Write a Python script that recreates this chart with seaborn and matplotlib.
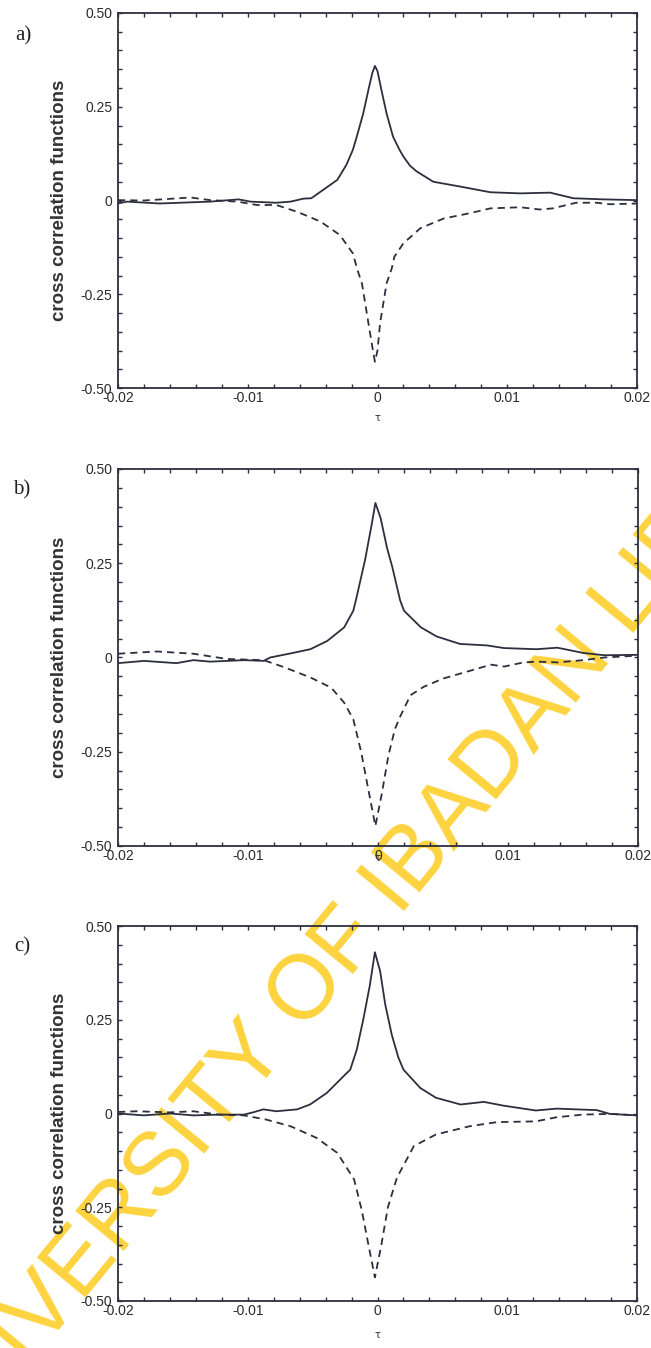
import numpy as np
import pandas as pd
import matplotlib
matplotlib.use("Agg")
import matplotlib.pyplot as plt
import seaborn as sns
from matplotlib.ticker import MultipleLocator

# ---------------- data ----------------
x_ticks = [-0.02, -0.01, 0.0, 0.01, 0.02]
x_ticklabels = ["-0.02", "-0.01", "0", "0.01", "0.02"]
y_ticks = [-0.5, -0.25, 0.0, 0.25, 0.5]
y_ticklabels = ["-0.50", "-0.25", "0", "0.25", "0.50"]
panel_labels = ["a)", "b)", "c)"]

# panel a
a_solid_tau = [-0.0200, -0.0193, -0.0168, -0.0129, -0.0107, -0.0098, -0.0078, -0.0067,
               -0.0057, -0.0051, -0.0042, -0.0031, -0.0024, -0.0019, -0.0016, -0.0011,
               -0.0007, -0.0004, -0.0002, 0.0000, 0.0003, 0.0007, 0.0012, 0.0017,
               0.0020, 0.0025, 0.0030, 0.0043, 0.0064, 0.0087, 0.0110, 0.0133,
               0.0151, 0.0174, 0.0200]
a_solid_val = [-0.008, -0.003, -0.008, -0.003, 0.003, -0.003, -0.006, -0.003,
               0.005, 0.006, 0.028, 0.055, 0.095, 0.135, 0.170, 0.232,
               0.295, 0.340, 0.359, 0.345, 0.295, 0.232, 0.170, 0.135,
               0.117, 0.093, 0.078, 0.050, 0.037, 0.022, 0.019, 0.021,
               0.006, 0.003, 0.001]
a_dash_tau = [-0.0200, -0.0180, -0.0144, -0.0129, -0.0108, -0.0093, -0.0078, -0.0062,
              -0.0044, -0.0029, -0.0019, -0.0015, -0.0012, -0.0007, -0.0004, -0.0002,
              0.0000, 0.0002, 0.0007, 0.0011, 0.0013, 0.0020, 0.0033, 0.0051,
              0.0071, 0.0087, 0.0110, 0.0125, 0.0135, 0.0153, 0.0169, 0.0179, 0.0200]
a_dash_val = [0.001, 0.000, 0.008, 0.001, -0.003, -0.012, -0.012, -0.030,
              -0.056, -0.092, -0.141, -0.190, -0.221, -0.327, -0.390, -0.430,
              -0.400, -0.327, -0.221, -0.181, -0.150, -0.114, -0.074, -0.048,
              -0.034, -0.021, -0.018, -0.024, -0.021, -0.006, -0.006, -0.010, -0.008]

# panel b
b_solid_tau = [-0.0200, -0.0180, -0.0155, -0.0142, -0.0129, -0.0103, -0.0088, -0.0083,
               -0.0067, -0.0052, -0.0039, -0.0026, -0.0019, -0.0017, -0.0010, -0.0005,
               -0.0002, 0.0002, 0.0007, 0.0011, 0.0017, 0.0020, 0.0033, 0.0045,
               0.0063, 0.0084, 0.0097, 0.0122, 0.0138, 0.0158, 0.0174, 0.0200]
b_solid_val = [-0.015, -0.009, -0.015, -0.007, -0.011, -0.007, -0.009, 0.000,
               0.011, 0.022, 0.044, 0.080, 0.124, 0.152, 0.258, 0.350,
               0.410, 0.370, 0.290, 0.240, 0.152, 0.124, 0.080, 0.056,
               0.036, 0.032, 0.025, 0.022, 0.026, 0.012, 0.006, 0.007]
b_dash_tau = [-0.0200, -0.0170, -0.0142, -0.0116, -0.0088, -0.0072, -0.0052, -0.0036,
              -0.0026, -0.0019, -0.0013, -0.0008, -0.0002, 0.0003, 0.0008, 0.0013,
              0.0017, 0.0025, 0.0035, 0.0050, 0.0071, 0.0087, 0.0097, 0.0112,
              0.0122, 0.0138, 0.0158, 0.0174, 0.0200]
b_dash_val = [0.010, 0.016, 0.010, -0.004, -0.007, -0.026, -0.053, -0.080,
              -0.120, -0.164, -0.250, -0.340, -0.447, -0.360, -0.260, -0.190,
              -0.157, -0.100, -0.078, -0.056, -0.035, -0.019, -0.024, -0.013,
              -0.011, -0.013, -0.007, 0.000, 0.005]

# panel c
c_solid_tau = [-0.0200, -0.0180, -0.0160, -0.0142, -0.0122, -0.0103, -0.0096, -0.0088,
               -0.0078, -0.0062, -0.0052, -0.0039, -0.0026, -0.0021, -0.0016, -0.0011,
               -0.0006, -0.0002, 0.0002, 0.0006, 0.0011, 0.0016, 0.0020, 0.0033,
               0.0045, 0.0064, 0.0082, 0.0097, 0.0122, 0.0138, 0.0169, 0.0179, 0.0200]
c_solid_val = [0.000, -0.005, 0.000, -0.005, -0.003, -0.003, 0.003, 0.011,
               0.006, 0.011, 0.024, 0.055, 0.100, 0.117, 0.170, 0.250,
               0.340, 0.430, 0.380, 0.290, 0.210, 0.150, 0.117, 0.068,
               0.042, 0.024, 0.031, 0.021, 0.008, 0.013, 0.009, -0.001, -0.005]
c_dash_tau = [-0.0200, -0.0186, -0.0160, -0.0142, -0.0122, -0.0103, -0.0086, -0.0067,
              -0.0047, -0.0031, -0.0018, -0.0012, -0.0007, -0.0002, 0.0003, 0.0008,
              0.0015, 0.0028, 0.0045, 0.0071, 0.0092, 0.0122, 0.0138, 0.0158,
              0.0179, 0.0200]
c_dash_val = [0.004, 0.006, 0.003, 0.006, -0.003, -0.005, -0.016, -0.034,
              -0.065, -0.105, -0.176, -0.260, -0.350, -0.437, -0.350, -0.250,
              -0.171, -0.087, -0.056, -0.034, -0.023, -0.021, -0.010, -0.003,
              -0.001, -0.005]

panels = [
    (a_solid_tau, a_solid_val, a_dash_tau, a_dash_val),
    (b_solid_tau, b_solid_val, b_dash_tau, b_dash_val),
    (c_solid_tau, c_solid_val, c_dash_tau, c_dash_val),
]

# ---------------- style ----------------
sns.set_style("ticks")
plt.rcParams['font.family'] = ['Liberation Sans', 'DejaVu Sans']

LC = '#2d2f3e'
TC = '#2a2a2a'
W, H = 651, 1348
fig = plt.figure(figsize=(W / 100, H / 100), dpi=100)
fig.patch.set_facecolor('white')

# pixel boxes: left, top, right, bottom
boxes = [(118, 13, 637, 388), (118, 469, 638, 846), (118, 926, 637, 1301)]
label_pos = [(23, 36), (22, 490), (22, 947)]
tau_pos = [418, 858, 1335]

for i, ((st, sv, dt, dv), (l, t, r, b)) in enumerate(zip(panels, boxes)):
    ax = fig.add_axes([l / W, 1 - b / H, (r - l) / W, (b - t) / H])
    ax.set_facecolor('none')
    sns.lineplot(x=st, y=sv, ax=ax, color=LC, lw=1.3, estimator=None, sort=False)
    sns.lineplot(x=dt, y=dv, ax=ax, color=LC, lw=1.3, estimator=None, sort=False)
    ax.lines[-1].set_dashes([4.0, 2.8])
    ax.set_xlim(-0.02, 0.02)
    ax.set_ylim(-0.5, 0.5)
    ax.set_xticks(x_ticks)
    ax.set_xticklabels(x_ticklabels)
    ax.set_yticks(y_ticks)
    ax.set_yticklabels(y_ticklabels)
    ax.xaxis.set_minor_locator(MultipleLocator(0.002))
    ax.yaxis.set_minor_locator(MultipleLocator(0.05))
    ax.tick_params(which='both', direction='in', top=True, right=True,
                   length=3, width=1.0, color=LC, labelsize=10, labelcolor=TC)
    ax.tick_params(axis='x', which='major', pad=2)
    ax.tick_params(axis='y', which='major', pad=4)
    for sp in ax.spines.values():
        sp.set_linewidth(1.3)
        sp.set_color(LC)
    ax.set_xlabel('')
    ax.set_ylabel('cross correlation functions', fontsize=13.5, fontweight='bold', color='#333333')
    ax.yaxis.set_label_coords(-0.096, 0.5)
    fig.text(label_pos[i][0] / W, 1 - label_pos[i][1] / H, panel_labels[i],
             family=['Liberation Serif', 'DejaVu Serif'], fontsize=15,
             ha='center', va='center', color='#222222')
    fig.text(377 / W, 1 - tau_pos[i] / H, 'τ', fontsize=7, ha='center', va='center',
             color=TC, family=['DejaVu Sans'])

# watermark
fig.text(391 / W, 1 - 891 / H, 'UNIVERSITY OF IBADAN LIBRARY', rotation=50.5,
         rotation_mode='anchor', ha='center', va='center', fontsize=65,
         color='#fdd33f', zorder=-1)

fig.savefig('out.png', dpi=100, facecolor='white')
